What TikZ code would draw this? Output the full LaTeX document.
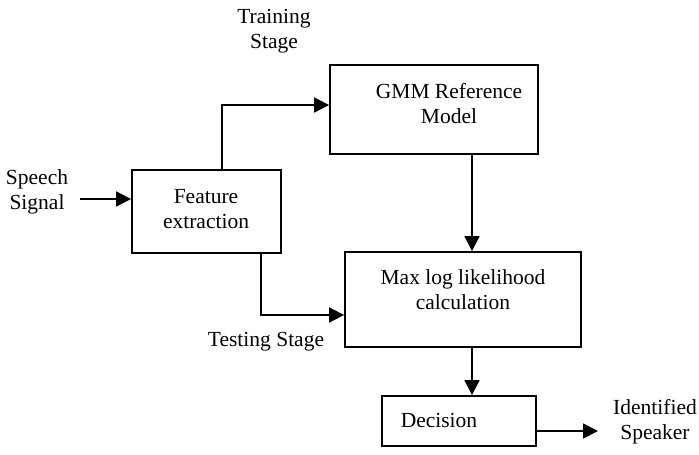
\documentclass[tikz,border=0pt]{standalone}
\usepackage{fontspec}
\setmainfont{Liberation Serif}
\usetikzlibrary{arrows.meta}
\begin{document}
\begin{tikzpicture}[x=1pt,y=-1pt,
  every node/.style={font=\fontsize{21.5}{25}\selectfont, inner sep=0pt},
  blockbox/.style={draw, line width=1.8pt},
  caption/.style={align=center},
  arr/.style={line width=1.8pt, -{Triangle[length=15pt,width=15pt]}}]
\useasboundingbox (0,0) rectangle (699,455);

% processing blocks
\node[blockbox, minimum width=149pt, minimum height=83pt] (feat) at (206.5,211.5) {};
\node[blockbox, minimum width=208pt, minimum height=89pt] (gmm) at (434,109.5) {};
\node[blockbox, minimum width=236pt, minimum height=95pt] (maxb) at (463,299.5) {};
\node[blockbox, minimum width=154pt, minimum height=50pt] (dec) at (459,421) {};

% block texts
\node[caption] (feattxt) at (206,209) {Feature\\extraction};
\node[caption] (gmmtxt) at (449,104) {GMM Reference\\Model};
\node[caption] (maxtxt) at (463,290) {Max log likelihood\\calculation};
\node[caption] (dectxt) at (439,420) {Decision};

% free labels
\node[caption] (speech) at (37,191.5) {Speech\\Signal};
\node[caption] (train) at (274,31.5) {Training\\Stage};
\node[caption] (test) at (266,342) {Testing Stage};
\node[caption] (ident) at (655,421.5) {Identified\\Speaker};

% connector guides
\coordinate (sin) at (80,199);
\coordinate (trk) at (222,105);
\coordinate (gx) at (472,0);
\coordinate (tsk) at (261,315);
\coordinate (sout) at (598,431);

% connectors
\draw[arr] (sin) -- (sin -| feat.west);
\draw[arr] (feat.north -| trk) |- (gmm.west |- trk);
\draw[arr] (gmm.south -| gx) -- (maxb.north -| gx);
\draw[arr] (feat.south -| tsk) |- (maxb.west |- tsk);
\draw[arr] (maxb.south -| gx) -- (dec.north -| gx);
\draw[arr] (dec.east |- sout) -- (sout);
\end{tikzpicture}
\end{document}
